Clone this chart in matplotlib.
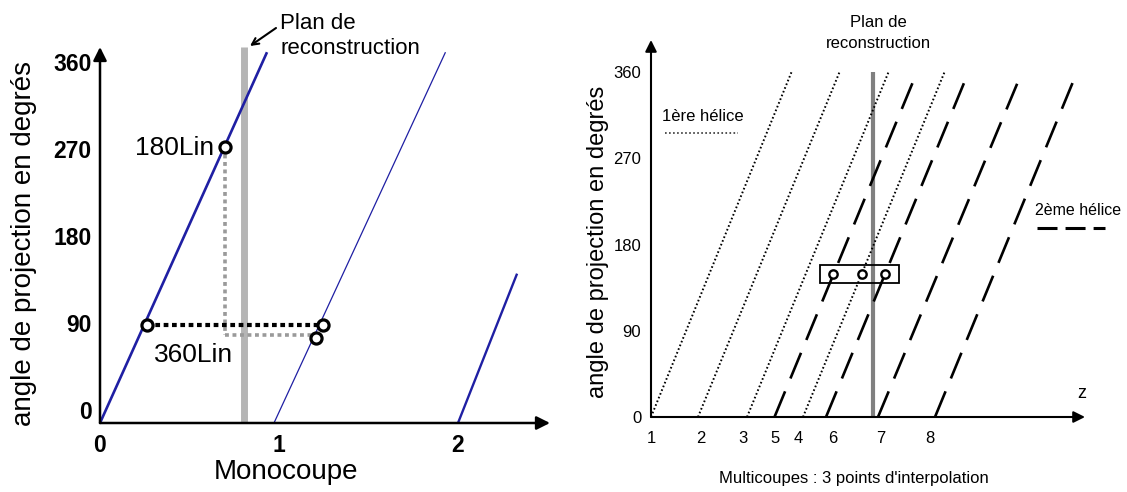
import matplotlib
matplotlib.use('Agg')
import matplotlib.pyplot as plt
from matplotlib.patches import Rectangle

plt.rcParams['lines.scale_dashes'] = False
plt.rcParams['font.family'] = ['Liberation Sans', 'DejaVu Sans']
NARROW = ['Liberation Sans', 'DejaVu Sans']

# ---------------- Left panel data (Monocoupe) ----------------
left_xticks = [0, 1, 2]
left_xticklabels = ['0', '1', '2']
left_yticks = [0, 90, 180, 270, 360]
left_yticklabels = ['0', '90', '180', '270', '360']
mono_x_start = [0.0, 0.972, 2.0]
mono_x_end = [0.933, 1.93, 2.33]
mono_deg_end = [360, 360, 145]
mono_lw = [1.9, 0.9, 1.7]
plan_mono = 0.804
pt_180lin = (0.698, 268)
pt_a = (0.263, 95)
pt_b = (1.246, 95)
pt_360lin = (1.207, 82.5)
grey_h_deg = 85.5

# ---------------- Right panel data (Multicoupes) ----------------
helix1_start = [0.0, 0.94, 1.92, 3.04]
helix1_end = [2.81, 3.77, 4.75, 5.87]
helix2_start = [2.47, 3.50, 4.54, 5.68]
helix2_end = [5.32, 6.35, 7.42, 8.52]
multi_xtick_pos = [0.0, 1.0, 1.83, 2.49, 2.94, 3.63, 4.59, 5.58]
multi_xtick_labels = ['1', '2', '3', '5', '4', '6', '7', '8']
multi_yticks = [0, 90, 180, 270, 360]
multi_yticklabels = ['0', '90', '180', '270', '360']
plan_multi = 4.43
interp_angle = 149
interp_lines = [('h2', 0), ('h1', 3), ('h2', 1)]
box_x = (3.384, 4.964)
box_deg = (140.0, 158.6)

W, H = 1127, 492
def fx(px):
    return px / W
def fy(py):
    return 1 - py / H

fig = plt.figure(figsize=(W / 100, H / 100), dpi=100)

# ======================= LEFT =======================
axL = fig.add_axes([fx(100), fy(423), 450 / W, 376 / H])
axL.set_xlim(0, 450 / 179)
axL.set_ylim(0, 376 / 1.03)
for s in axL.spines.values():
    s.set_visible(False)
axL.set_yticks([])
axL.set_xticks(left_xticks, left_xticklabels, fontsize=16.5, fontweight='bold')
axL.tick_params(axis='x', length=0, pad=8)

axT = axL.twinx()
axT.set_ylim(-13.4, 375.4)
axT.yaxis.tick_left()
for s in axT.spines.values():
    s.set_visible(False)
axT.set_yticks(left_yticks, left_yticklabels, fontsize=16.5, fontweight='bold')
axT.tick_params(axis='y', length=0, pad=6)

# reconstruction plane
axL.plot([plan_mono, plan_mono], [0, 376 / 1.03], color='#b5b5b5', lw=5, zorder=1,
         solid_capstyle='butt')
# helix lines
for xs, xe, de, lw in zip(mono_x_start, mono_x_end, mono_deg_end, mono_lw):
    axL.plot([xs, xe], [0, de], color='#1f1fa3', lw=lw, zorder=3, solid_capstyle='butt')
# grey dotted construction
axL.plot([pt_180lin[0], pt_180lin[0]], [pt_180lin[1], grey_h_deg], color='#9a9a9a',
         lw=2.6, dashes=(2.8, 2.6), zorder=2)
axL.plot([pt_180lin[0], pt_360lin[0]], [grey_h_deg, grey_h_deg], color='#9a9a9a',
         lw=2.6, dashes=(2.8, 2.6), zorder=2)
# black dotted
axL.plot([pt_a[0], pt_b[0]], [pt_a[1], pt_b[1]], color='k', lw=3, dashes=(3.4, 2.6), zorder=4)
# circles
for p in (pt_180lin, pt_a, pt_b, pt_360lin):
    axL.plot(p[0], p[1], 'o', ms=8, mfc='white', mec='k', mew=2.3, zorder=5)

axL.annotate('180Lin', xy=pt_180lin, xytext=(-8, -1), textcoords='offset points',
             ha='right', va='center', fontsize=19)
axL.text(0.30, 66, '360Lin', ha='left', va='center', fontsize=19)

# axes arrows
arrow_kw = dict(arrowstyle='-|>', color='k', lw=1.8, mutation_scale=20, shrinkA=0, shrinkB=0)
axL.annotate('', xy=(1, 0), xytext=(0, 0), xycoords='axes fraction', arrowprops=arrow_kw)
axL.annotate('', xy=(0, 1), xytext=(0, 0), xycoords='axes fraction', arrowprops=arrow_kw)

fig.text(fx(280), fy(36), 'Plan de\nreconstruction', ha='left', va='center',
         fontsize=16, linespacing=1.2)
axL.annotate('', xy=(250, H - 46), xytext=(276, H - 28), xycoords='figure pixels',
             arrowprops=dict(arrowstyle='->', color='k', lw=1.5, mutation_scale=12,
                             shrinkA=0, shrinkB=0))
fig.text(fx(24), fy(243), 'angle de projection en degrés', rotation=90,
         ha='center', va='center', fontsize=20)
fig.text(fx(286), fy(472), 'Monocoupe', ha='center', va='center', fontsize=20)

# ======================= RIGHT =======================
axR = fig.add_axes([fx(651), fy(417), 434 / W, 377 / H])
axR.set_xlim(0, 8.68)
axR.set_ylim(0, 377 / 0.958)
for s in axR.spines.values():
    s.set_visible(False)
axR.set_xticks(multi_xtick_pos, multi_xtick_labels, fontsize=12, fontfamily=NARROW)
axR.set_yticks(multi_yticks, multi_yticklabels, fontsize=12, fontfamily=NARROW)
axR.tick_params(axis='x', length=0, pad=10)
axR.tick_params(axis='y', length=0, pad=7)

axR.plot([plan_multi, plan_multi], [0, 360], color='#808080', lw=3, zorder=1.5,
         solid_capstyle='butt')
for s, e in zip(helix1_start, helix1_end):
    axR.plot([s, e], [0, 360], color='k', lw=1.4, dashes=(1.2, 1.7), zorder=2)
for s, e in zip(helix2_start, helix2_end):
    axR.plot([s, e], [0, 360], color='k', lw=1.9, dashes=(20, 10), zorder=2)

axR.add_patch(Rectangle((box_x[0], box_deg[0]), box_x[1] - box_x[0], box_deg[1] - box_deg[0],
                        fill=False, ec='k', lw=1.3, zorder=4))
helices = {'h1': (helix1_start, helix1_end), 'h2': (helix2_start, helix2_end)}
for name, i in interp_lines:
    st, en = helices[name]
    xc = st[i] + (en[i] - st[i]) * interp_angle / 360
    axR.plot(xc, interp_angle, 'o', ms=6, mfc='white', mec='k', mew=1.7, zorder=5)

# legends
axR.plot([0.28, 1.74], [296.5, 296.5], color='#444444', lw=1.3, dashes=(1.2, 1.7))
axR.text(0.22, 314, '1ère hélice', ha='left', va='center', fontsize=12, fontfamily=NARROW)
axR.plot([7.72, 9.08], [197, 197], color='k', lw=2.2, dashes=(14.4, 5.8), clip_on=False)
axR.text(7.68, 216, '2ème hélice', ha='left', va='center', fontsize=11.5, fontfamily=NARROW)
axR.text(8.62, 25, 'z', ha='center', va='center', fontsize=13, fontfamily=NARROW)

arrow_kw2 = dict(arrowstyle='-|>', color='k', lw=1.5, mutation_scale=17, shrinkA=0, shrinkB=0)
axR.annotate('', xy=(1, 0), xytext=(0, 0), xycoords='axes fraction', arrowprops=arrow_kw2)
axR.annotate('', xy=(0, 1), xytext=(0, 0), xycoords='axes fraction', arrowprops=arrow_kw2)

fig.text(fx(878), fy(33), 'Plan de\nreconstruction', ha='center', va='center',
         multialignment='center', fontsize=12, fontfamily=NARROW, linespacing=1.45)
fig.text(fx(598), fy(242), 'angle de projection en degrés', rotation=90,
         ha='center', va='center', fontsize=17)
fig.text(fx(854), fy(478), "Multicoupes : 3 points d'interpolation", ha='center',
         va='center', fontsize=12, fontfamily=NARROW)

fig.savefig('out.png', dpi=100)
